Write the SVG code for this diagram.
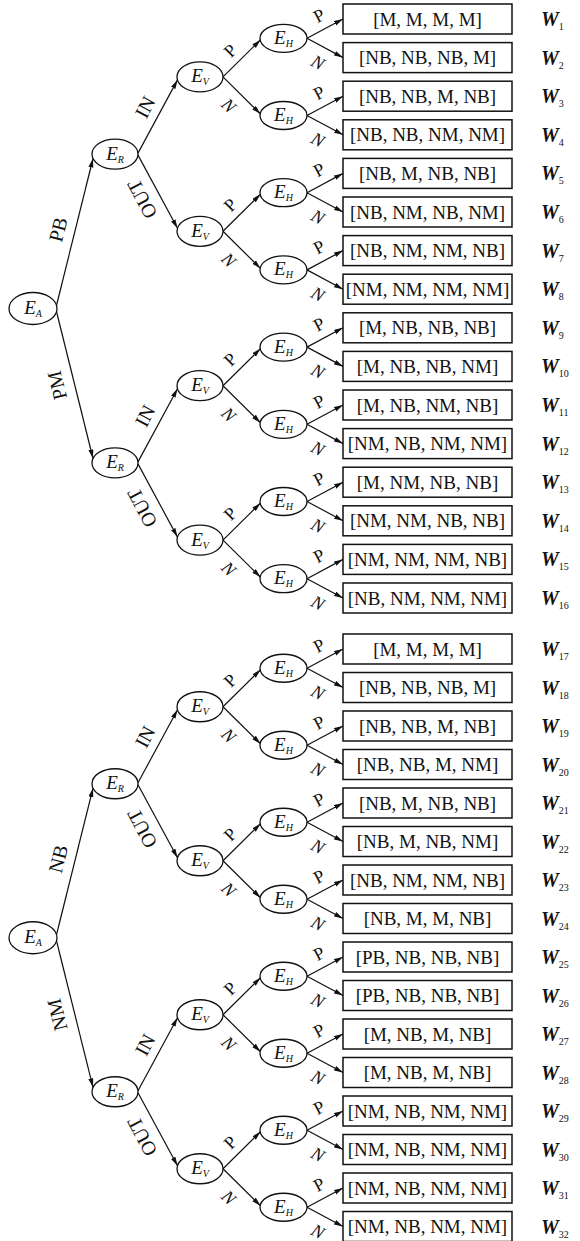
<svg xmlns="http://www.w3.org/2000/svg" width="580" height="1241" viewBox="0 0 580 1241">
<defs>
<marker id="ah" markerUnits="userSpaceOnUse" markerWidth="10" markerHeight="6" refX="9" refY="2.5" orient="auto"><path d="M0,0 L9,2.5 L0,5 z" fill="#111"/></marker>
<style>
.ln line{stroke:#111;stroke-width:1.2;fill:none;marker-end:url(#ah)}
.nd ellipse{fill:#fff;stroke:#111;stroke-width:1.3}
.nd text{font-family:"Liberation Serif",serif;font-style:italic;font-size:19px;text-anchor:middle;fill:#111}
.sub{font-size:10px}
.bx rect{fill:#fff;stroke:#111;stroke-width:1.5}
.bx text.v{font-family:"Liberation Serif",serif;font-size:19px;text-anchor:middle;fill:#111}
.bx text.w{font-family:"Liberation Serif",serif;font-weight:bold;font-style:italic;font-size:20px;fill:#111}
.bx text.w tspan{font-size:10px;font-weight:normal;font-style:normal}
.lb text{font-family:"Liberation Serif",serif;font-size:20px;text-anchor:middle;fill:#111}
.lb text.p{font-size:18px}
.lb text.n{font-size:18px;font-style:italic}
</style>
</defs>
<rect width="580" height="1241" fill="#fff"/>
<g id="connectors" class="ln">
<line x1="307" y1="38.3" x2="343" y2="19"/><line x1="307" y1="38.3" x2="343" y2="57.6"/>
<line x1="307" y1="115.5" x2="343" y2="96.2"/><line x1="307" y1="115.5" x2="343" y2="134.8"/>
<line x1="307" y1="192.7" x2="343" y2="173.4"/><line x1="307" y1="192.7" x2="343" y2="212"/>
<line x1="307" y1="269.9" x2="343" y2="250.6"/><line x1="307" y1="269.9" x2="343" y2="289.2"/>
<line x1="307" y1="347.1" x2="343" y2="327.8"/><line x1="307" y1="347.1" x2="343" y2="366.4"/>
<line x1="307" y1="424.3" x2="343" y2="405"/><line x1="307" y1="424.3" x2="343" y2="443.6"/>
<line x1="307" y1="501.5" x2="343" y2="482.2"/><line x1="307" y1="501.5" x2="343" y2="520.8"/>
<line x1="307" y1="578.7" x2="343" y2="559.4"/><line x1="307" y1="578.7" x2="343" y2="598"/>
<line x1="307" y1="668.25" x2="343" y2="649"/><line x1="307" y1="668.25" x2="343" y2="687.5"/>
<line x1="307" y1="745.25" x2="343" y2="726"/><line x1="307" y1="745.25" x2="343" y2="764.5"/>
<line x1="307" y1="822.25" x2="343" y2="803"/><line x1="307" y1="822.25" x2="343" y2="841.5"/>
<line x1="307" y1="899.25" x2="343" y2="880"/><line x1="307" y1="899.25" x2="343" y2="918.5"/>
<line x1="307" y1="976.25" x2="343" y2="957"/><line x1="307" y1="976.25" x2="343" y2="995.5"/>
<line x1="307" y1="1053.25" x2="343" y2="1034"/><line x1="307" y1="1053.25" x2="343" y2="1072.5"/>
<line x1="307" y1="1130.25" x2="343" y2="1111"/><line x1="307" y1="1130.25" x2="343" y2="1149.5"/>
<line x1="307" y1="1207.25" x2="343" y2="1188"/><line x1="307" y1="1207.25" x2="343" y2="1226.5"/>
<line x1="223" y1="76.9" x2="260.5" y2="39.8"/><line x1="223" y1="76.9" x2="260.5" y2="114"/>
<line x1="223" y1="231.3" x2="260.5" y2="194.2"/><line x1="223" y1="231.3" x2="260.5" y2="268.4"/>
<line x1="223" y1="385.7" x2="260.5" y2="348.6"/><line x1="223" y1="385.7" x2="260.5" y2="422.8"/>
<line x1="223" y1="540.1" x2="260.5" y2="503"/><line x1="223" y1="540.1" x2="260.5" y2="577.2"/>
<line x1="223" y1="706.75" x2="260.5" y2="669.75"/><line x1="223" y1="706.75" x2="260.5" y2="743.75"/>
<line x1="223" y1="860.75" x2="260.5" y2="823.75"/><line x1="223" y1="860.75" x2="260.5" y2="897.75"/>
<line x1="223" y1="1014.75" x2="260.5" y2="977.75"/><line x1="223" y1="1014.75" x2="260.5" y2="1051.75"/>
<line x1="223" y1="1168.75" x2="260.5" y2="1131.75"/><line x1="223" y1="1168.75" x2="260.5" y2="1205.75"/>
<line x1="138" y1="153.1" x2="177.5" y2="79.9"/><line x1="138" y1="155.1" x2="177.5" y2="228.3"/>
<line x1="138" y1="461.9" x2="177.5" y2="388.7"/><line x1="138" y1="463.9" x2="177.5" y2="537.1"/>
<line x1="138" y1="782.75" x2="177.5" y2="709.75"/><line x1="138" y1="784.75" x2="177.5" y2="857.75"/>
<line x1="138" y1="1090.75" x2="177.5" y2="1017.75"/><line x1="138" y1="1092.75" x2="177.5" y2="1165.75"/>
<line x1="56.5" y1="305.5" x2="93" y2="158.5"/><line x1="56.5" y1="311.5" x2="93" y2="458.5"/>
<line x1="56.5" y1="934.75" x2="93" y2="788.15"/><line x1="56.5" y1="940.75" x2="93" y2="1087.35"/>
</g>
<g id="edge-labels" class="lb">
<text transform="translate(58,229.5) rotate(-76)" dy="0.35em">PB</text>
<text transform="translate(57,385.5) rotate(-104)" dy="0.35em">PM</text>
<text transform="translate(58,858.75) rotate(-76)" dy="0.35em">NB</text>
<text transform="translate(57,1014.75) rotate(-104)" dy="0.35em">NM</text>
<text transform="translate(145,107.1) rotate(-62)" dy="0.35em">IN</text>
<text transform="translate(142,199.1) rotate(-118)" dy="0.35em">OUT</text>
<text transform="translate(145,415.9) rotate(-62)" dy="0.35em">IN</text>
<text transform="translate(142,507.9) rotate(-118)" dy="0.35em">OUT</text>
<text transform="translate(145,736.75) rotate(-62)" dy="0.35em">IN</text>
<text transform="translate(142,828.75) rotate(-118)" dy="0.35em">OUT</text>
<text transform="translate(145,1044.75) rotate(-62)" dy="0.35em">IN</text>
<text transform="translate(142,1136.75) rotate(-118)" dy="0.35em">OUT</text>
<text class="p" transform="translate(230,50.4) rotate(-45)" dy="0.35em">P</text>
<text class="n" transform="translate(229,105.4) rotate(45)" dy="0.35em">N</text>
<text class="p" transform="translate(230,204.8) rotate(-45)" dy="0.35em">P</text>
<text class="n" transform="translate(229,259.8) rotate(45)" dy="0.35em">N</text>
<text class="p" transform="translate(230,359.2) rotate(-45)" dy="0.35em">P</text>
<text class="n" transform="translate(229,414.2) rotate(45)" dy="0.35em">N</text>
<text class="p" transform="translate(230,513.6) rotate(-45)" dy="0.35em">P</text>
<text class="n" transform="translate(229,568.6) rotate(45)" dy="0.35em">N</text>
<text class="p" transform="translate(230,680.25) rotate(-45)" dy="0.35em">P</text>
<text class="n" transform="translate(229,735.25) rotate(45)" dy="0.35em">N</text>
<text class="p" transform="translate(230,834.25) rotate(-45)" dy="0.35em">P</text>
<text class="n" transform="translate(229,889.25) rotate(45)" dy="0.35em">N</text>
<text class="p" transform="translate(230,988.25) rotate(-45)" dy="0.35em">P</text>
<text class="n" transform="translate(229,1043.25) rotate(45)" dy="0.35em">N</text>
<text class="p" transform="translate(230,1142.25) rotate(-45)" dy="0.35em">P</text>
<text class="n" transform="translate(229,1197.25) rotate(45)" dy="0.35em">N</text>
<text class="p" transform="translate(319,15.3) rotate(-28)" dy="0.35em">P</text>
<text class="n" transform="translate(318,62.3) rotate(28)" dy="0.35em">N</text>
<text class="p" transform="translate(319,92.5) rotate(-28)" dy="0.35em">P</text>
<text class="n" transform="translate(318,139.5) rotate(28)" dy="0.35em">N</text>
<text class="p" transform="translate(319,169.7) rotate(-28)" dy="0.35em">P</text>
<text class="n" transform="translate(318,216.7) rotate(28)" dy="0.35em">N</text>
<text class="p" transform="translate(319,246.9) rotate(-28)" dy="0.35em">P</text>
<text class="n" transform="translate(318,293.9) rotate(28)" dy="0.35em">N</text>
<text class="p" transform="translate(319,324.1) rotate(-28)" dy="0.35em">P</text>
<text class="n" transform="translate(318,371.1) rotate(28)" dy="0.35em">N</text>
<text class="p" transform="translate(319,401.3) rotate(-28)" dy="0.35em">P</text>
<text class="n" transform="translate(318,448.3) rotate(28)" dy="0.35em">N</text>
<text class="p" transform="translate(319,478.5) rotate(-28)" dy="0.35em">P</text>
<text class="n" transform="translate(318,525.5) rotate(28)" dy="0.35em">N</text>
<text class="p" transform="translate(319,555.7) rotate(-28)" dy="0.35em">P</text>
<text class="n" transform="translate(318,602.7) rotate(28)" dy="0.35em">N</text>
<text class="p" transform="translate(319,645.25) rotate(-28)" dy="0.35em">P</text>
<text class="n" transform="translate(318,692.25) rotate(28)" dy="0.35em">N</text>
<text class="p" transform="translate(319,722.25) rotate(-28)" dy="0.35em">P</text>
<text class="n" transform="translate(318,769.25) rotate(28)" dy="0.35em">N</text>
<text class="p" transform="translate(319,799.25) rotate(-28)" dy="0.35em">P</text>
<text class="n" transform="translate(318,846.25) rotate(28)" dy="0.35em">N</text>
<text class="p" transform="translate(319,876.25) rotate(-28)" dy="0.35em">P</text>
<text class="n" transform="translate(318,923.25) rotate(28)" dy="0.35em">N</text>
<text class="p" transform="translate(319,953.25) rotate(-28)" dy="0.35em">P</text>
<text class="n" transform="translate(318,1000.25) rotate(28)" dy="0.35em">N</text>
<text class="p" transform="translate(319,1030.25) rotate(-28)" dy="0.35em">P</text>
<text class="n" transform="translate(318,1077.25) rotate(28)" dy="0.35em">N</text>
<text class="p" transform="translate(319,1107.25) rotate(-28)" dy="0.35em">P</text>
<text class="n" transform="translate(318,1154.25) rotate(28)" dy="0.35em">N</text>
<text class="p" transform="translate(319,1184.25) rotate(-28)" dy="0.35em">P</text>
<text class="n" transform="translate(318,1231.25) rotate(28)" dy="0.35em">N</text>
</g>
<g id="ea1" class="nd" transform="translate(33,308.5)"><ellipse rx="24" ry="16"/><text y="5.5">E<tspan class="sub" dy="3">A</tspan></text></g>
<g id="ea2" class="nd" transform="translate(33,937.75)"><ellipse rx="24" ry="16"/><text y="5.5">E<tspan class="sub" dy="3">A</tspan></text></g>
<g id="er1" class="nd" transform="translate(115,154.1)"><ellipse rx="23" ry="15"/><text y="5.5">E<tspan class="sub" dy="3">R</tspan></text></g>
<g id="er2" class="nd" transform="translate(115,462.9)"><ellipse rx="23" ry="15"/><text y="5.5">E<tspan class="sub" dy="3">R</tspan></text></g>
<g id="er3" class="nd" transform="translate(115,783.75)"><ellipse rx="23" ry="15"/><text y="5.5">E<tspan class="sub" dy="3">R</tspan></text></g>
<g id="er4" class="nd" transform="translate(115,1091.75)"><ellipse rx="23" ry="15"/><text y="5.5">E<tspan class="sub" dy="3">R</tspan></text></g>
<g id="ev1" class="nd" transform="translate(200,76.9)"><ellipse rx="23" ry="15"/><text y="5.5">E<tspan class="sub" dy="3">V</tspan></text></g>
<g id="ev2" class="nd" transform="translate(200,231.3)"><ellipse rx="23" ry="15"/><text y="5.5">E<tspan class="sub" dy="3">V</tspan></text></g>
<g id="ev3" class="nd" transform="translate(200,385.7)"><ellipse rx="23" ry="15"/><text y="5.5">E<tspan class="sub" dy="3">V</tspan></text></g>
<g id="ev4" class="nd" transform="translate(200,540.1)"><ellipse rx="23" ry="15"/><text y="5.5">E<tspan class="sub" dy="3">V</tspan></text></g>
<g id="ev5" class="nd" transform="translate(200,706.75)"><ellipse rx="23" ry="15"/><text y="5.5">E<tspan class="sub" dy="3">V</tspan></text></g>
<g id="ev6" class="nd" transform="translate(200,860.75)"><ellipse rx="23" ry="15"/><text y="5.5">E<tspan class="sub" dy="3">V</tspan></text></g>
<g id="ev7" class="nd" transform="translate(200,1014.75)"><ellipse rx="23" ry="15"/><text y="5.5">E<tspan class="sub" dy="3">V</tspan></text></g>
<g id="ev8" class="nd" transform="translate(200,1168.75)"><ellipse rx="23" ry="15"/><text y="5.5">E<tspan class="sub" dy="3">V</tspan></text></g>
<g id="eh1" class="nd" transform="translate(283.5,38.3)"><ellipse rx="23.5" ry="14"/><text y="5.5">E<tspan class="sub" dy="3">H</tspan></text></g>
<g id="eh2" class="nd" transform="translate(283.5,115.5)"><ellipse rx="23.5" ry="14"/><text y="5.5">E<tspan class="sub" dy="3">H</tspan></text></g>
<g id="eh3" class="nd" transform="translate(283.5,192.7)"><ellipse rx="23.5" ry="14"/><text y="5.5">E<tspan class="sub" dy="3">H</tspan></text></g>
<g id="eh4" class="nd" transform="translate(283.5,269.9)"><ellipse rx="23.5" ry="14"/><text y="5.5">E<tspan class="sub" dy="3">H</tspan></text></g>
<g id="eh5" class="nd" transform="translate(283.5,347.1)"><ellipse rx="23.5" ry="14"/><text y="5.5">E<tspan class="sub" dy="3">H</tspan></text></g>
<g id="eh6" class="nd" transform="translate(283.5,424.3)"><ellipse rx="23.5" ry="14"/><text y="5.5">E<tspan class="sub" dy="3">H</tspan></text></g>
<g id="eh7" class="nd" transform="translate(283.5,501.5)"><ellipse rx="23.5" ry="14"/><text y="5.5">E<tspan class="sub" dy="3">H</tspan></text></g>
<g id="eh8" class="nd" transform="translate(283.5,578.7)"><ellipse rx="23.5" ry="14"/><text y="5.5">E<tspan class="sub" dy="3">H</tspan></text></g>
<g id="eh9" class="nd" transform="translate(283.5,668.25)"><ellipse rx="23.5" ry="14"/><text y="5.5">E<tspan class="sub" dy="3">H</tspan></text></g>
<g id="eh10" class="nd" transform="translate(283.5,745.25)"><ellipse rx="23.5" ry="14"/><text y="5.5">E<tspan class="sub" dy="3">H</tspan></text></g>
<g id="eh11" class="nd" transform="translate(283.5,822.25)"><ellipse rx="23.5" ry="14"/><text y="5.5">E<tspan class="sub" dy="3">H</tspan></text></g>
<g id="eh12" class="nd" transform="translate(283.5,899.25)"><ellipse rx="23.5" ry="14"/><text y="5.5">E<tspan class="sub" dy="3">H</tspan></text></g>
<g id="eh13" class="nd" transform="translate(283.5,976.25)"><ellipse rx="23.5" ry="14"/><text y="5.5">E<tspan class="sub" dy="3">H</tspan></text></g>
<g id="eh14" class="nd" transform="translate(283.5,1053.25)"><ellipse rx="23.5" ry="14"/><text y="5.5">E<tspan class="sub" dy="3">H</tspan></text></g>
<g id="eh15" class="nd" transform="translate(283.5,1130.25)"><ellipse rx="23.5" ry="14"/><text y="5.5">E<tspan class="sub" dy="3">H</tspan></text></g>
<g id="eh16" class="nd" transform="translate(283.5,1207.25)"><ellipse rx="23.5" ry="14"/><text y="5.5">E<tspan class="sub" dy="3">H</tspan></text></g>
<g id="w1" class="bx" transform="translate(0,19)"><rect x="343" y="-15" width="169" height="30"/><text class="v" x="427.5" y="6.5">[M, M, M, M]</text><text class="w" x="541" y="7">W<tspan dy="4">1</tspan></text></g>
<g id="w2" class="bx" transform="translate(0,57.6)"><rect x="343" y="-15" width="169" height="30"/><text class="v" x="427.5" y="6.5">[NB, NB, NB, M]</text><text class="w" x="541" y="7">W<tspan dy="4">2</tspan></text></g>
<g id="w3" class="bx" transform="translate(0,96.2)"><rect x="343" y="-15" width="169" height="30"/><text class="v" x="427.5" y="6.5">[NB, NB, M, NB]</text><text class="w" x="541" y="7">W<tspan dy="4">3</tspan></text></g>
<g id="w4" class="bx" transform="translate(0,134.8)"><rect x="343" y="-15" width="169" height="30"/><text class="v" x="427.5" y="6.5">[NB, NB, NM, NM]</text><text class="w" x="541" y="7">W<tspan dy="4">4</tspan></text></g>
<g id="w5" class="bx" transform="translate(0,173.4)"><rect x="343" y="-15" width="169" height="30"/><text class="v" x="427.5" y="6.5">[NB, M, NB, NB]</text><text class="w" x="541" y="7">W<tspan dy="4">5</tspan></text></g>
<g id="w6" class="bx" transform="translate(0,212)"><rect x="343" y="-15" width="169" height="30"/><text class="v" x="427.5" y="6.5">[NB, NM, NB, NM]</text><text class="w" x="541" y="7">W<tspan dy="4">6</tspan></text></g>
<g id="w7" class="bx" transform="translate(0,250.6)"><rect x="343" y="-15" width="169" height="30"/><text class="v" x="427.5" y="6.5">[NB, NM, NM, NB]</text><text class="w" x="541" y="7">W<tspan dy="4">7</tspan></text></g>
<g id="w8" class="bx" transform="translate(0,289.2)"><rect x="343" y="-15" width="169" height="30"/><text class="v" x="427.5" y="6.5">[NM, NM, NM, NM]</text><text class="w" x="541" y="7">W<tspan dy="4">8</tspan></text></g>
<g id="w9" class="bx" transform="translate(0,327.8)"><rect x="343" y="-15" width="169" height="30"/><text class="v" x="427.5" y="6.5">[M, NB, NB, NB]</text><text class="w" x="541" y="7">W<tspan dy="4">9</tspan></text></g>
<g id="w10" class="bx" transform="translate(0,366.4)"><rect x="343" y="-15" width="169" height="30"/><text class="v" x="427.5" y="6.5">[M, NB, NB, NM]</text><text class="w" x="541" y="7">W<tspan dy="4">10</tspan></text></g>
<g id="w11" class="bx" transform="translate(0,405)"><rect x="343" y="-15" width="169" height="30"/><text class="v" x="427.5" y="6.5">[M, NB, NM, NB]</text><text class="w" x="541" y="7">W<tspan dy="4">11</tspan></text></g>
<g id="w12" class="bx" transform="translate(0,443.6)"><rect x="343" y="-15" width="169" height="30"/><text class="v" x="427.5" y="6.5">[NM, NB, NM, NM]</text><text class="w" x="541" y="7">W<tspan dy="4">12</tspan></text></g>
<g id="w13" class="bx" transform="translate(0,482.2)"><rect x="343" y="-15" width="169" height="30"/><text class="v" x="427.5" y="6.5">[M, NM, NB, NB]</text><text class="w" x="541" y="7">W<tspan dy="4">13</tspan></text></g>
<g id="w14" class="bx" transform="translate(0,520.8)"><rect x="343" y="-15" width="169" height="30"/><text class="v" x="427.5" y="6.5">[NM, NM, NB, NB]</text><text class="w" x="541" y="7">W<tspan dy="4">14</tspan></text></g>
<g id="w15" class="bx" transform="translate(0,559.4)"><rect x="343" y="-15" width="169" height="30"/><text class="v" x="427.5" y="6.5">[NM, NM, NM, NB]</text><text class="w" x="541" y="7">W<tspan dy="4">15</tspan></text></g>
<g id="w16" class="bx" transform="translate(0,598)"><rect x="343" y="-15" width="169" height="30"/><text class="v" x="427.5" y="6.5">[NB, NM, NM, NM]</text><text class="w" x="541" y="7">W<tspan dy="4">16</tspan></text></g>
<g id="w17" class="bx" transform="translate(0,649)"><rect x="343" y="-15" width="169" height="30"/><text class="v" x="427.5" y="6.5">[M, M, M, M]</text><text class="w" x="541" y="7">W<tspan dy="4">17</tspan></text></g>
<g id="w18" class="bx" transform="translate(0,687.5)"><rect x="343" y="-15" width="169" height="30"/><text class="v" x="427.5" y="6.5">[NB, NB, NB, M]</text><text class="w" x="541" y="7">W<tspan dy="4">18</tspan></text></g>
<g id="w19" class="bx" transform="translate(0,726)"><rect x="343" y="-15" width="169" height="30"/><text class="v" x="427.5" y="6.5">[NB, NB, M, NB]</text><text class="w" x="541" y="7">W<tspan dy="4">19</tspan></text></g>
<g id="w20" class="bx" transform="translate(0,764.5)"><rect x="343" y="-15" width="169" height="30"/><text class="v" x="427.5" y="6.5">[NB, NB, M, NM]</text><text class="w" x="541" y="7">W<tspan dy="4">20</tspan></text></g>
<g id="w21" class="bx" transform="translate(0,803)"><rect x="343" y="-15" width="169" height="30"/><text class="v" x="427.5" y="6.5">[NB, M, NB, NB]</text><text class="w" x="541" y="7">W<tspan dy="4">21</tspan></text></g>
<g id="w22" class="bx" transform="translate(0,841.5)"><rect x="343" y="-15" width="169" height="30"/><text class="v" x="427.5" y="6.5">[NB, M, NB, NM]</text><text class="w" x="541" y="7">W<tspan dy="4">22</tspan></text></g>
<g id="w23" class="bx" transform="translate(0,880)"><rect x="343" y="-15" width="169" height="30"/><text class="v" x="427.5" y="6.5">[NB, NM, NM, NB]</text><text class="w" x="541" y="7">W<tspan dy="4">23</tspan></text></g>
<g id="w24" class="bx" transform="translate(0,918.5)"><rect x="343" y="-15" width="169" height="30"/><text class="v" x="427.5" y="6.5">[NB, M, M, NB]</text><text class="w" x="541" y="7">W<tspan dy="4">24</tspan></text></g>
<g id="w25" class="bx" transform="translate(0,957)"><rect x="343" y="-15" width="169" height="30"/><text class="v" x="427.5" y="6.5">[PB, NB, NB, NB]</text><text class="w" x="541" y="7">W<tspan dy="4">25</tspan></text></g>
<g id="w26" class="bx" transform="translate(0,995.5)"><rect x="343" y="-15" width="169" height="30"/><text class="v" x="427.5" y="6.5">[PB, NB, NB, NB]</text><text class="w" x="541" y="7">W<tspan dy="4">26</tspan></text></g>
<g id="w27" class="bx" transform="translate(0,1034)"><rect x="343" y="-15" width="169" height="30"/><text class="v" x="427.5" y="6.5">[M, NB, M, NB]</text><text class="w" x="541" y="7">W<tspan dy="4">27</tspan></text></g>
<g id="w28" class="bx" transform="translate(0,1072.5)"><rect x="343" y="-15" width="169" height="30"/><text class="v" x="427.5" y="6.5">[M, NB, M, NB]</text><text class="w" x="541" y="7">W<tspan dy="4">28</tspan></text></g>
<g id="w29" class="bx" transform="translate(0,1111)"><rect x="343" y="-15" width="169" height="30"/><text class="v" x="427.5" y="6.5">[NM, NB, NM, NM]</text><text class="w" x="541" y="7">W<tspan dy="4">29</tspan></text></g>
<g id="w30" class="bx" transform="translate(0,1149.5)"><rect x="343" y="-15" width="169" height="30"/><text class="v" x="427.5" y="6.5">[NM, NB, NM, NM]</text><text class="w" x="541" y="7">W<tspan dy="4">30</tspan></text></g>
<g id="w31" class="bx" transform="translate(0,1188)"><rect x="343" y="-15" width="169" height="30"/><text class="v" x="427.5" y="6.5">[NM, NB, NM, NM]</text><text class="w" x="541" y="7">W<tspan dy="4">31</tspan></text></g>
<g id="w32" class="bx" transform="translate(0,1226.5)"><rect x="343" y="-15" width="169" height="30"/><text class="v" x="427.5" y="6.5">[NM, NB, NM, NM]</text><text class="w" x="541" y="7">W<tspan dy="4">32</tspan></text></g>
</svg>
